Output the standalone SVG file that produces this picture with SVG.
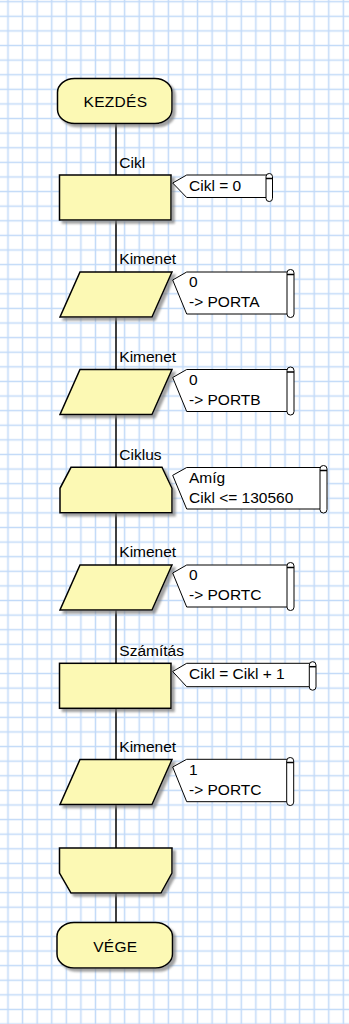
<svg xmlns="http://www.w3.org/2000/svg" width="349" height="1024" viewBox="0 0 349 1024">
<defs>
<pattern id="grid" patternUnits="userSpaceOnUse" x="0.71" y="-5.6" width="14.58" height="14.605">
<path d="M7.29 0V14.605M0 7.3H14.58" stroke="#c2daf8" stroke-width="1.5" fill="none"/>
</pattern>
<filter id="sh" x="-10%" y="-10%" width="130%" height="140%">
<feDropShadow dx="3" dy="3" stdDeviation="0.8" flood-color="#7a7a7a" flood-opacity="0.7"/>
</filter>
<style>
.shape{fill:#fcf9b4;stroke:#000;stroke-width:1.5;filter:url(#sh)}
.conn{stroke:#000;stroke-width:1.5;fill:none}
.call{fill:#fff;stroke:#000;stroke-width:1}
.t{font-family:"Liberation Sans",Arial,sans-serif;font-size:15.5px;fill:#000}
.c{text-anchor:middle;letter-spacing:0.3px}
</style>
</defs>
<rect width="349" height="1024" fill="#fff"/>
<rect width="349" height="1024" fill="url(#grid)"/>

<g id="connectors">
<path class="conn" d="M116 123.5V175M116 220V272M116 317V369.5M116 414.5V467.3M116 512.7V565M116 610V663.3M116 708.3V759.5M116 804.5V848M116 893V922.5"/>
</g>

<g id="start">
<rect class="shape" x="57.5" y="78.5" width="114.5" height="45" rx="17" ry="14"/>
<text class="t c" x="115.5" y="106.7">KEZDÉS</text>
</g>

<g id="cikl">
<text class="t" x="119.3" y="168.3">Cikl</text>
<rect class="shape" x="59.5" y="175" width="111.5" height="45"/>
<path class="call" d="M172.7 183L186.7 175H268V197.5H186.7Z"/>
<rect class="call" x="266" y="173.5" width="6.5" height="28" rx="3.2"/>
<path class="conn" stroke-width="1" d="M266 178.5H272.5"/>
<text class="t" x="189" y="190.5">Cikl = 0</text>
</g>

<g id="kimenet1">
<text class="t" x="119.3" y="264.3">Kimenet</text>
<path class="shape" d="M80 272H172L152 317H60Z"/>
<path class="call" d="M172.7 280L186.7 272H289V314H186.7Z"/>
<rect class="call" x="287" y="269.5" width="7" height="48" rx="3.4"/>
<path class="conn" stroke-width="1" d="M287 274.5H294"/>
<text class="t" x="189" y="287">0</text>
<text class="t" x="189" y="307">-&gt; PORTA</text>
</g>

<g id="kimenet2">
<text class="t" x="119.3" y="361.8">Kimenet</text>
<path class="shape" d="M80 369.5H172L152 414.5H60Z"/>
<path class="call" d="M172.7 377.5L186.7 369.5H289V411.5H186.7Z"/>
<rect class="call" x="287" y="367" width="7" height="48" rx="3.4"/>
<path class="conn" stroke-width="1" d="M287 372H294"/>
<text class="t" x="189" y="384.5">0</text>
<text class="t" x="189" y="404.5">-&gt; PORTB</text>
</g>

<g id="ciklus">
<text class="t" x="119.3" y="459.8">Ciklus</text>
<path class="shape" d="M71 467.3H162L172 488.3V512.7H60V488.3Z"/>
<path class="call" d="M172.7 475.3L186.7 467.5H322V509H186.7Z"/>
<rect class="call" x="320" y="465.5" width="7" height="47.5" rx="3.4"/>
<path class="conn" stroke-width="1" d="M320 470.5H327"/>
<text class="t" x="189" y="483">Amíg</text>
<text class="t" x="189" y="503">Cikl &lt;= 130560</text>
</g>

<g id="kimenet3">
<text class="t" x="119.3" y="557.3">Kimenet</text>
<path class="shape" d="M80 565H172L152 610H60Z"/>
<path class="call" d="M172.7 573L186.7 565H289V607H186.7Z"/>
<rect class="call" x="287" y="562.5" width="7" height="48" rx="3.4"/>
<path class="conn" stroke-width="1" d="M287 567.5H294"/>
<text class="t" x="189" y="580">0</text>
<text class="t" x="189" y="600">-&gt; PORTC</text>
</g>

<g id="szamitas">
<text class="t" x="119.3" y="655.5">Számítás</text>
<rect class="shape" x="59.5" y="663.3" width="111.5" height="45"/>
<path class="call" d="M172.7 671.5L186.7 663.3H311V686.7H186.7Z"/>
<rect class="call" x="309.3" y="661.7" width="6.7" height="28.5" rx="3.3"/>
<path class="conn" stroke-width="1" d="M309.3 666.7H316"/>
<text class="t" x="189" y="679.3">Cikl = Cikl + 1</text>
</g>

<g id="kimenet4">
<text class="t" x="119.3" y="751.8">Kimenet</text>
<path class="shape" d="M80 759.5H172L152 804.5H60Z"/>
<path class="call" d="M172.7 767L186.7 759.3H289V801.7H186.7Z"/>
<rect class="call" x="286.7" y="757.5" width="7" height="48" rx="3.4"/>
<path class="conn" stroke-width="1" d="M286.7 762.5H293.7"/>
<text class="t" x="189" y="775">1</text>
<text class="t" x="189" y="795">-&gt; PORTC</text>
</g>

<g id="loopend">
<path class="shape" d="M59.5 848H172V873L161 893H71L59.5 873Z"/>
</g>

<g id="end">
<rect class="shape" x="57" y="922.5" width="115.5" height="45.5" rx="17" ry="14"/>
<text class="t c" x="115.3" y="951.7">VÉGE</text>
</g>
</svg>
